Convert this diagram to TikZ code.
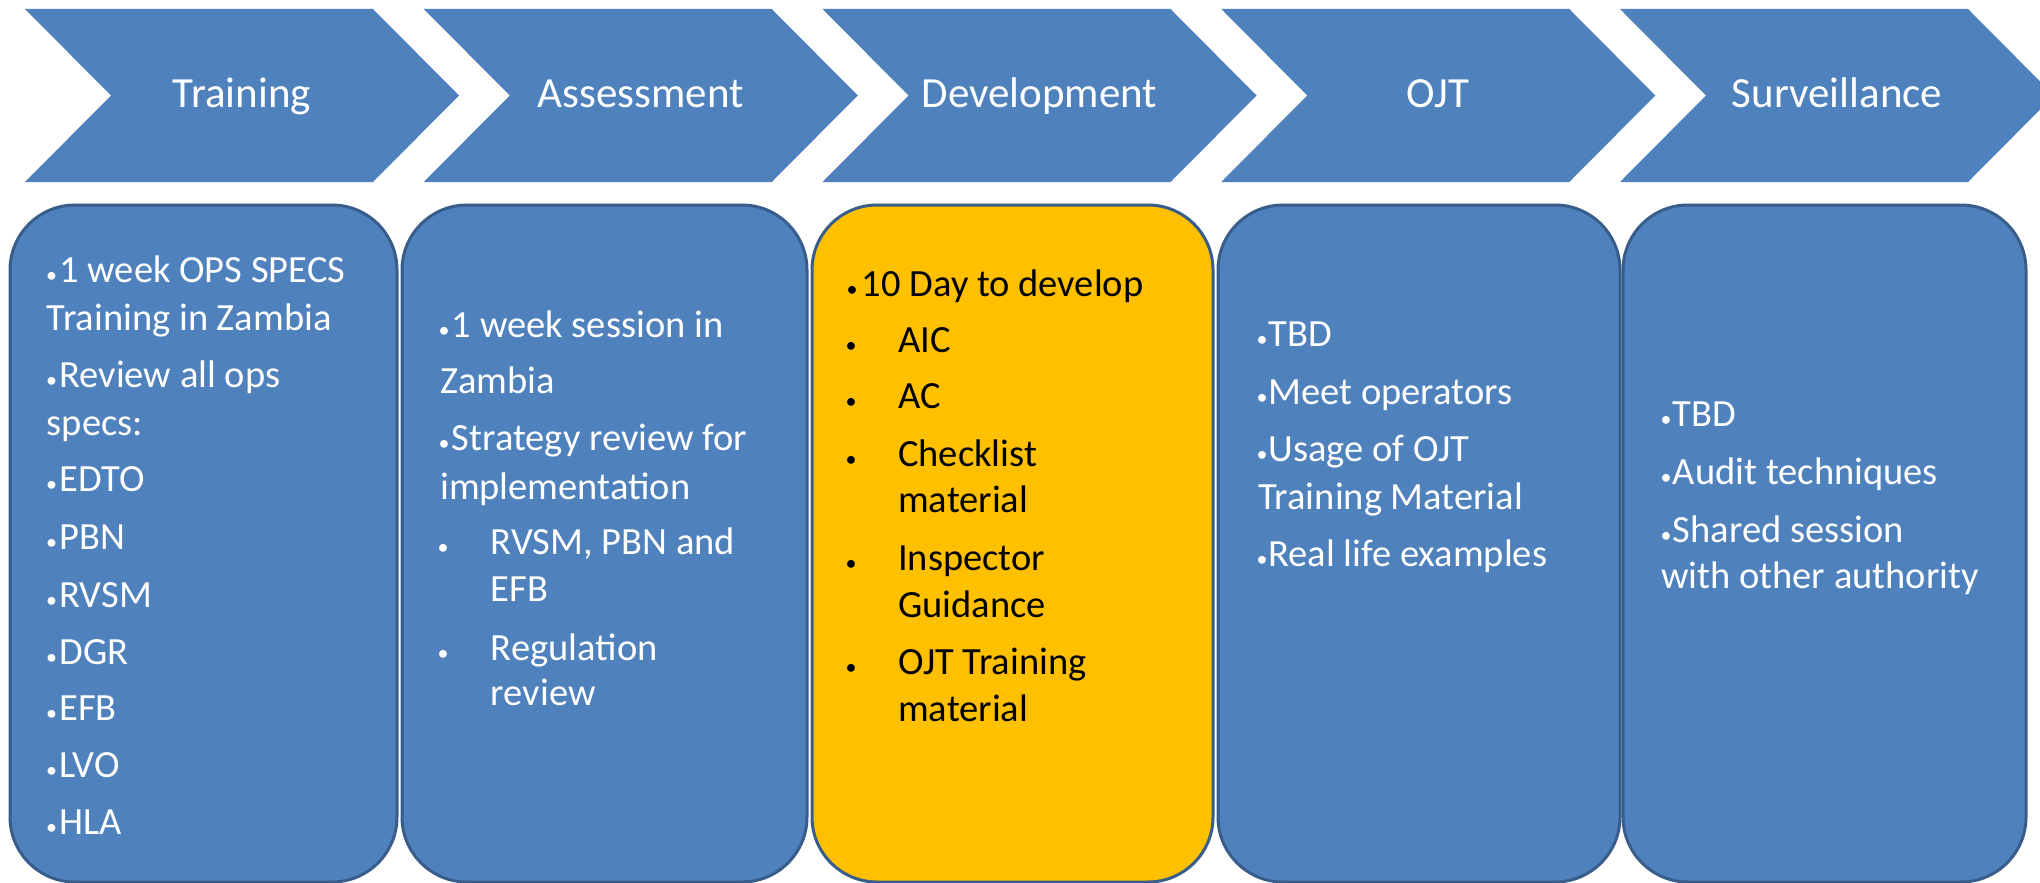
\documentclass[tikz,border=0pt]{standalone}
\usepackage{fontspec}
\setmainfont{Carlito}
\definecolor{accblue}{HTML}{4F81BD}
\definecolor{bordblue}{HTML}{385D8A}
\definecolor{accyellow}{HTML}{FFC000}
\newcommand{\bitem}[6]{%
  \node[bul, text=#5] (#1b) at (#2,#4) {•};
  \node[txt, text=#5] (#1) at (#3,#4) {#6};}
\newcommand{\citem}[5]{%
  \node[txt, text=#4] (#1) at (#2,#3) {#5};}
\begin{document}
\begin{tikzpicture}[x=1pt,y=-1pt,
  chev/.style={fill=accblue, draw=none},
  card/.style={draw=bordblue, line width=3pt, rounded corners=65pt},
  head/.style={text=white, font=\fontsize{43}{50}\selectfont, anchor=base, inner sep=0pt},
  txt/.style={font=\fontsize{38.5}{46}\selectfont, anchor=base west, inner sep=0pt},
  bul/.style={font=\fontsize{22}{26}\selectfont, anchor=base, inner sep=0pt},
]
\path[use as bounding box] (0,0) rectangle (2040,883);
\clip (0,0) rectangle (2040,883);
\fill[white] (0,0) rectangle (2040,883);

% chevrons
\foreach \L/\nm/\lab in {25/h1/Training, 423.75/h2/Assessment, 822.5/h3/Development, 1221.25/h4/OJT, 1620/h5/Surveillance}{
  \fill[chev] (\L,9) -- (\L+348,9) -- (\L+434,95.5) -- (\L+348,182) -- (\L,182) -- (\L+86,95.5) -- cycle;
  \node[head] (\nm) at (\L+217,107) {\lab};
}

% cards
\draw[card, fill=accblue] (10,205) rectangle (397,882);
\draw[card, fill=accblue] (402,205) rectangle (807,882);
\draw[card, fill=accyellow] (812,205) rectangle (1213,882);
\draw[card, fill=accblue] (1218,205) rectangle (1620,882);
\draw[card, fill=accblue] (1623,205) rectangle (2026,882);

% card 1
\bitem{a1}{51.7}{59.3}{282.7}{white}{1 week OPS SPECS}
\citem{a2}{46.7}{330}{white}{Training in Zambia}
\bitem{a3}{51.7}{59.3}{387.3}{white}{Review all ops}
\citem{a4}{46.7}{435}{white}{specs:}
\bitem{a5}{51.7}{59.3}{491}{white}{EDTO}
\bitem{a6}{51.7}{59.3}{549}{white}{PBN}
\bitem{a7}{51.7}{59.3}{607.3}{white}{RVSM}
\bitem{a8}{51.7}{59.3}{664}{white}{DGR}
\bitem{a9}{51.7}{59.3}{720.7}{white}{EFB}
\bitem{a10}{51.7}{59.3}{777.7}{white}{LVO}
\bitem{a11}{51.7}{59.3}{834.3}{white}{HLA}

% card 2
\bitem{b1}{444}{451.7}{337.7}{white}{1 week session in}
\citem{b2}{440}{393.3}{white}{Zambia}
\bitem{b3}{444}{451.7}{450}{white}{Strategy review for}
\citem{b4}{440}{499.3}{white}{implementation}
\bitem{b5}{443}{490.7}{554.3}{white}{RVSM, PBN and}
\citem{b6}{490.7}{601.7}{white}{EFB}
\bitem{b7}{443}{490.7}{660}{white}{Regulation}
\citem{b8}{490.7}{705.7}{white}{review}

% card 3
\bitem{c1}{852}{861.7}{296}{black}{10 Day to develop}
\bitem{c2}{851}{898}{352.6}{black}{AIC}
\bitem{c3}{851}{898}{408.7}{black}{AC}
\bitem{c4}{851}{898}{466.2}{black}{Checklist}
\citem{c5}{898}{512.6}{black}{material}
\bitem{c6}{851}{898}{570}{black}{Inspector}
\citem{c7}{898}{617.7}{black}{Guidance}
\bitem{c8}{851}{898}{674.8}{black}{OJT Training}
\citem{c9}{898}{721.6}{black}{material}

% card 4
\bitem{d1}{1262}{1268.3}{346.7}{white}{TBD}
\bitem{d2}{1262}{1268.3}{404.3}{white}{Meet operators}
\bitem{d3}{1262}{1268.3}{461.7}{white}{Usage of OJT}
\citem{d4}{1258.3}{509.3}{white}{Training Material}
\bitem{d5}{1262}{1268.3}{566.7}{white}{Real life examples}

% card 5
\bitem{e1}{1666}{1672.7}{426.7}{white}{TBD}
\bitem{e2}{1666}{1672.7}{484.3}{white}{Audit techniques}
\bitem{e3}{1666}{1672.7}{542.3}{white}{Shared session}
\citem{e4}{1661}{588.3}{white}{with other authority}
\end{tikzpicture}
\end{document}
